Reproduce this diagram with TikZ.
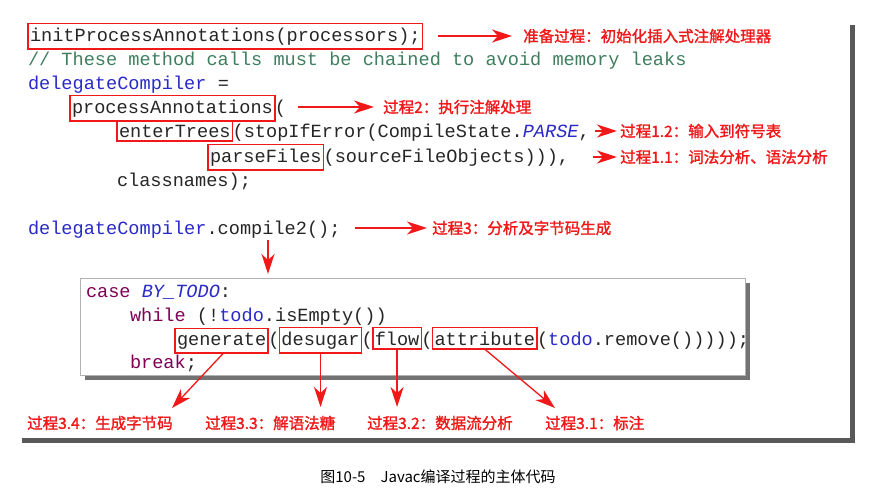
\documentclass[tikz,border=0pt]{standalone}
\usepackage{fontspec}
\setmonofont{Liberation Mono}
\newfontfamily\cjk[FakeBold=1.5]{Noto Sans CJK SC}
\newfontfamily\capfont{Noto Sans CJK SC}
\usetikzlibrary{arrows.meta}
\definecolor{kw}{HTML}{7F0055}
\definecolor{bl}{HTML}{2A2AC8}
\definecolor{cm}{HTML}{3F7F5F}
\definecolor{rd}{HTML}{F01818}
\begin{document}
\begin{tikzpicture}[x=1pt,y=-1pt,
  code/.style={font=\ttfamily\fontsize{18.6}{20}\selectfont, inner sep=0pt, outer sep=0pt, text=black!85},
  nx/.style={code, anchor=base west},
  rbox/.style={draw=rd, line width=1.6pt, inner xsep=2pt, inner ysep=4pt},
  lab/.style={font=\cjk\fontsize{15.5}{17}\selectfont, text=rd, anchor=west, inner sep=0pt},
  arr/.style={draw=rd, line width=1.3pt, -{Stealth[length=20pt,width=13pt,inset=6pt]}}]
\useasboundingbox (0,0) rectangle (873,491);
% outer frame with shadow
\fill[black!65] (22,25) rectangle (855,443);
\fill[white] (16,20) rectangle (850,438);
% code lines
\node[code, anchor=base west, rbox] (a1) at (28,41) {initProcessAnnotations(processors);};
\node[code, anchor=base west, text=cm] (c2) at (28,65) {// These method calls must be chained to avoid memory leaks};
\node[code, anchor=base west] (c3) at (28,89) {\textcolor{bl}{delegateCompiler} =};
\node[code, anchor=base west, rbox] (p2) at (70,113) {processAnnotations};
\node[nx] (p2b) at (p2.base east) {(};
\node[code, anchor=base west, rbox] (et) at (117,137) {enterTrees};
\node[nx] (etb) at (et.base east) {(stopIfError(CompileState.\textcolor{bl}{\itshape PARSE},};
\node[code, anchor=base west, rbox] (pf) at (208,162) {parseFiles};
\node[nx] (pfb) at (pf.base east) {(sourceFileObjects))),};
\node[code, anchor=base west] (c7) at (117,186) {classnames);};
\node[code, anchor=base west] (c9) at (28,234) {\textcolor{bl}{delegateCompiler}.compile2();};
% labels top
\node[lab] (l1) at (523,36) {准备过程：初始化插入式注解处理器};
\node[lab] (l2) at (383,107) {过程2：执行注解处理};
\node[lab] (l3) at (620,131) {过程1.2：输入到符号表};
\node[lab] (l4) at (620,157) {过程1.1：词法分析、语法分析};
\node[lab] (l5) at (432,228) {过程3：分析及字节码生成};
\coordinate (s1) at (438,36);  \draw[arr] (s1) -- (512,36);
\coordinate (s2) at (298,107); \draw[arr] (s2) -- (374,107);
\coordinate (s3) at (595,131); \draw[arr] (s3) -- (617,131);
\coordinate (s4) at (593,157); \draw[arr] (s4) -- (617,157);
\coordinate (s5) at (355,228); \draw[arr] (s5) -- (427,228);
% inner box
\fill[black!55] (85,283) rectangle (750,380);
\draw[fill=white, draw=black!30] (80,278) rectangle (745,375);
\coordinate (dtop) at (268,240);
\draw[arr] (dtop) -- (268,274);
\node[code, anchor=base west] (k1) at (86,297) {\textcolor{kw}{case} \textcolor{bl}{\itshape BY\_TODO}:};
\node[code, anchor=base west] (k2) at (130,321) {\textcolor{kw}{while} (!\textcolor{bl}{todo}.isEmpty())};
\node[code, anchor=base west, rbox] (g) at (175,345) {generate};
\node[nx] (g1) at (g.base east) {(};
\node[code, anchor=base west, rbox] (d) at (g1.base east) {desugar};
\node[nx] (d1) at (d.base east) {(};
\node[code, anchor=base west, rbox] (f) at (d1.base east) {flow};
\node[nx] (f1) at (f.base east) {(};
\node[code, anchor=base west, rbox] (at) at (f1.base east) {attribute};
\node[nx] (at1) at (at.base east) {(\textcolor{bl}{todo}.remove()))));};
\node[code, anchor=base west] (k4) at (130,368) {\textcolor{kw}{break};};
% bottom labels
\node[lab] (b4) at (27,423) {过程3.4：生成字节码};
\node[lab] (b3) at (205,423) {过程3.3：解语法糖};
\node[lab] (b2) at (367,423) {过程3.2：数据流分析};
\node[lab] (b1) at (545,423) {过程3.1：标注};
\draw[arr] (g.south) ++(2,0) -- (172,408);
\draw[arr] (d.south) -- (d.south |- 0,407);
\draw[arr] (f.south) -- (f.south |- 0,407);
\draw[arr] (at.south) -- (555,408);
% caption
\node[font=\capfont\fontsize{15}{17}\selectfont, inner sep=0pt] (cap) at (438,477) {图10-5\quad Javac编译过程的主体代码};
\end{tikzpicture}
\end{document}
